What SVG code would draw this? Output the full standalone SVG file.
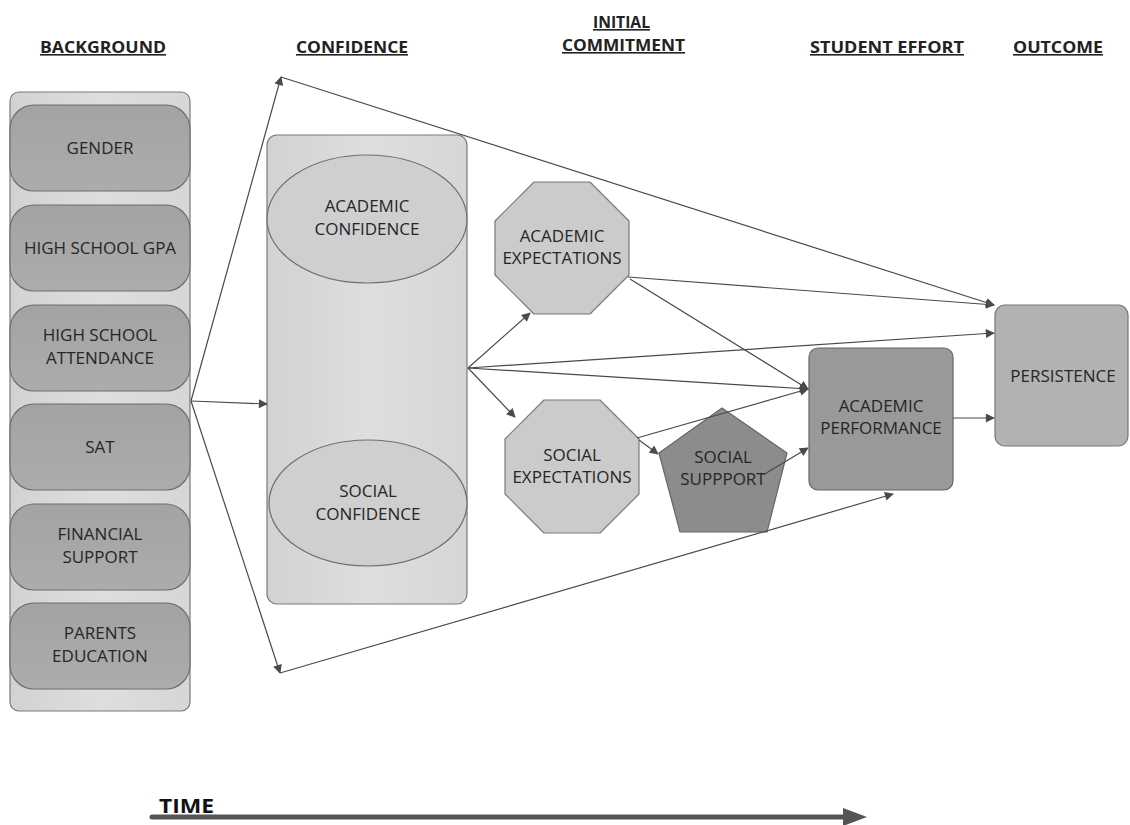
<svg xmlns="http://www.w3.org/2000/svg" width="1130" height="825" viewBox="0 0 1130 825">
<defs>
<marker id="arr" viewBox="0 0 10 10" refX="9" refY="5" markerWidth="11" markerHeight="9" markerUnits="userSpaceOnUse" orient="auto">
<path d="M0,0 L10,5 L0,10 z" fill="#4a4a4a"/>
</marker>
<linearGradient id="gBox" x1="0" y1="0" x2="0" y2="1"><stop offset="0" stop-color="#a3a3a3"/><stop offset="1" stop-color="#acacac"/></linearGradient>
<linearGradient id="gCont" x1="0" y1="0" x2="1" y2="0"><stop offset="0" stop-color="#d2d2d2"/><stop offset="0.5" stop-color="#dedede"/><stop offset="1" stop-color="#d6d6d6"/></linearGradient>
</defs>
<style>
.h{font-family:"Open Sans","DejaVu Sans",sans-serif;font-weight:bold;font-size:16px;fill:#222;text-decoration:underline;}
.t{font-family:"Open Sans","DejaVu Sans",sans-serif;font-size:17px;fill:#262626;text-anchor:middle;}
.box{fill:url(#gBox);stroke:#6e6e6e;stroke-width:1.2;}
.cont{fill:url(#gCont);stroke:#7a7a7a;stroke-width:1.2;}
.ell{fill:#cfcfcf;stroke:#6e6e6e;stroke-width:1.2;}
.oct{fill:#cbcbcb;stroke:#7a7a7a;stroke-width:1.2;stroke-linejoin:round;}
.c{stroke:#4a4a4a;stroke-width:1.2;fill:none;marker-end:url(#arr);}
</style>
<rect width="1130" height="825" fill="#ffffff"/>

<g id="headings">
<text class="h" x="40" y="53" textLength="126" lengthAdjust="spacingAndGlyphs">BACKGROUND</text>
<text class="h" x="296" y="53" textLength="112" lengthAdjust="spacingAndGlyphs">CONFIDENCE</text>
<text class="h" x="593" y="28" textLength="57" lengthAdjust="spacingAndGlyphs">INITIAL</text>
<text class="h" x="562" y="51" textLength="123" lengthAdjust="spacingAndGlyphs">COMMITMENT</text>
<text class="h" x="810" y="53" textLength="154" lengthAdjust="spacingAndGlyphs">STUDENT EFFORT</text>
<text class="h" x="1013" y="53" textLength="90" lengthAdjust="spacingAndGlyphs">OUTCOME</text>
</g>

<g id="background">
<rect class="cont" x="10" y="92" width="180" height="619" rx="9"/>
<g id="gender"><rect class="box" x="10" y="105" width="180" height="86" rx="24"/><text class="t" x="100" y="154">GENDER</text></g>
<g id="gpa"><rect class="box" x="10" y="205" width="180" height="86" rx="24"/><text class="t" x="100" y="254">HIGH SCHOOL GPA</text></g>
<g id="attendance"><rect class="box" x="10" y="305" width="180" height="86" rx="24"/><text class="t" x="100" y="341">HIGH SCHOOL</text><text class="t" x="100" y="364">ATTENDANCE</text></g>
<g id="sat"><rect class="box" x="10" y="404" width="180" height="86" rx="24"/><text class="t" x="100" y="453">SAT</text></g>
<g id="financial"><rect class="box" x="10" y="504" width="180" height="86" rx="24"/><text class="t" x="100" y="540">FINANCIAL</text><text class="t" x="100" y="563">SUPPORT</text></g>
<g id="parents"><rect class="box" x="10" y="603" width="180" height="86" rx="24"/><text class="t" x="100" y="639">PARENTS</text><text class="t" x="100" y="662">EDUCATION</text></g>
</g>

<g id="confidence">
<rect class="cont" x="267" y="135" width="200" height="469" rx="10"/>
<g id="acad-conf"><ellipse class="ell" cx="367" cy="219" rx="100" ry="64"/><text class="t" x="367" y="212">ACADEMIC</text><text class="t" x="367" y="235">CONFIDENCE</text></g>
<g id="soc-conf"><ellipse class="ell" cx="368" cy="503" rx="99" ry="63"/><text class="t" x="368" y="497">SOCIAL</text><text class="t" x="368" y="520">CONFIDENCE</text></g>
</g>

<g id="acad-exp">
<polygon class="oct" points="534,182 590,182 629,221 629,275 590,314 534,314 495,275 495,221"/>
<text class="t" x="562" y="242">ACADEMIC</text><text class="t" x="562" y="264">EXPECTATIONS</text>
</g>
<g id="soc-exp">
<polygon class="oct" points="544,400 600,400 639,439 639,494 600,533 544,533 505,494 505,439"/>
<text class="t" x="572" y="461">SOCIAL</text><text class="t" x="572" y="483">EXPECTATIONS</text>
</g>
<g id="soc-support">
<polygon points="722,408 787,453 767,532 680,532 659,453" fill="#8c8c8c" stroke="#666" stroke-width="1.2" stroke-linejoin="round"/>
<text class="t" x="723" y="463">SOCIAL</text><text class="t" x="723" y="485">SUPPPORT</text>
</g>
<g id="acad-perf">
<rect x="809" y="348" width="144" height="142" rx="9" fill="#999999" stroke="#666" stroke-width="1.2"/>
<text class="t" x="881" y="412">ACADEMIC</text><text class="t" x="881" y="434">PERFORMANCE</text>
</g>
<g id="persistence">
<rect x="995" y="305" width="133" height="141" rx="10" fill="#b2b2b2" stroke="#777" stroke-width="1.2"/>
<text class="t" x="1063" y="382">PERSISTENCE</text>
</g>

<g id="connectors">
<line class="c" x1="191" y1="401" x2="267" y2="404"/>
<line class="c" x1="191" y1="401" x2="281" y2="77"/>
<line class="c" x1="281" y1="77" x2="994" y2="305"/>
<line class="c" x1="191" y1="401" x2="280" y2="673"/>
<line class="c" x1="280" y1="673" x2="893" y2="494"/>
<line class="c" x1="468" y1="368" x2="530" y2="313"/>
<line class="c" x1="468" y1="368" x2="515" y2="417"/>
<line class="c" x1="468" y1="368" x2="994" y2="333"/>
<line class="c" x1="468" y1="368" x2="808" y2="389"/>
<line class="c" x1="628" y1="277" x2="994" y2="305"/>
<line class="c" x1="630" y1="279" x2="808" y2="389"/>
<line class="c" x1="637" y1="438" x2="808" y2="389"/>
<line class="c" x1="639" y1="440" x2="658" y2="454"/>
<line class="c" x1="763" y1="475" x2="808" y2="448"/>
<line class="c" x1="953" y1="418" x2="994" y2="418"/>
</g>

<g id="time">
<text x="159" y="813" font-family="'Open Sans','DejaVu Sans',sans-serif" font-weight="bold" font-size="20" fill="#111" textLength="55" lengthAdjust="spacingAndGlyphs">TIME</text>
<line x1="152" y1="817" x2="848" y2="817" stroke="#555" stroke-width="5" stroke-linecap="round"/>
<polygon points="843,808 867,817 843,826" fill="#555"/>
</g>
</svg>
